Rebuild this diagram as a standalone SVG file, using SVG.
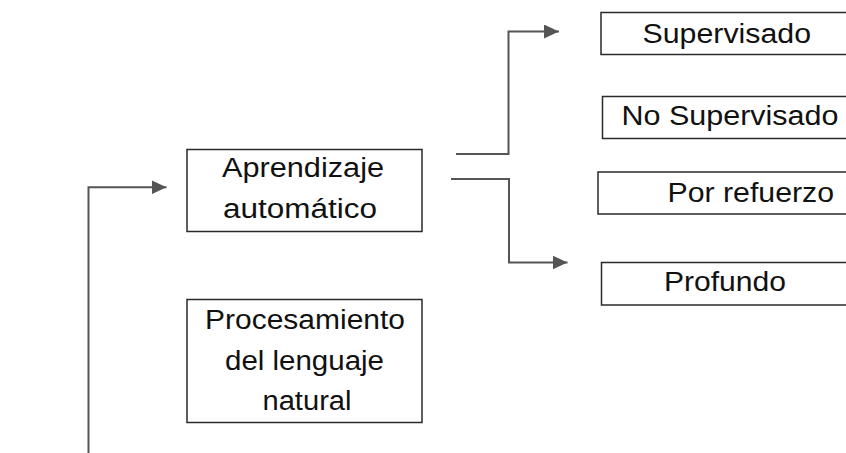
<svg xmlns="http://www.w3.org/2000/svg" width="846" height="453" viewBox="0 0 846 453">
<style>
.box{fill:#fff;stroke:#2a2a2a;stroke-width:1.5}
.lbl{font-family:"Liberation Sans",Arial,sans-serif;font-size:27px;fill:#111}
.conn{fill:none;stroke:#555;stroke-width:2}
</style>
<defs>
<marker id="arr" viewBox="0 0 15 14" refX="15" refY="7" markerWidth="15" markerHeight="14" markerUnits="userSpaceOnUse" orient="auto">
<path d="M0,0 L15,7 L0,14 Z" fill="#555"/>
</marker>
</defs>
<rect width="846" height="453" fill="#fff"/>
<g id="connectors">
<path class="conn" d="M88.5,453 V187.3 H166.5" marker-end="url(#arr)"/>
<path class="conn" d="M456,154 H508.5 V31.5 H559" marker-end="url(#arr)"/>
<path class="conn" d="M451,179 H509 V262.5 H567.5" marker-end="url(#arr)"/>
</g>
<g id="aprendizaje">
<rect class="box" x="187" y="149.5" width="235" height="82"/>
<text class="lbl" x="222" y="177" textLength="162" lengthAdjust="spacingAndGlyphs">Aprendizaje</text>
<text class="lbl" x="223" y="217.5" textLength="154" lengthAdjust="spacingAndGlyphs">automático</text>
</g>
<g id="procesamiento">
<rect class="box" x="187" y="299.5" width="235" height="123"/>
<text class="lbl" x="205" y="328.5" textLength="200" lengthAdjust="spacingAndGlyphs">Procesamiento</text>
<text class="lbl" x="225" y="370" textLength="159" lengthAdjust="spacingAndGlyphs">del lenguaje</text>
<text class="lbl" x="262.5" y="409.5" textLength="89" lengthAdjust="spacingAndGlyphs">natural</text>
</g>
<g id="supervisado">
<rect class="box" x="601" y="12.5" width="250" height="42"/>
<text class="lbl" x="642.5" y="43" textLength="168.5" lengthAdjust="spacingAndGlyphs">Supervisado</text>
</g>
<g id="no-supervisado">
<rect class="box" x="602.5" y="96.5" width="250" height="42"/>
<text class="lbl" x="621.5" y="125" textLength="217" lengthAdjust="spacingAndGlyphs">No Supervisado</text>
</g>
<g id="por-refuerzo">
<rect class="box" x="598" y="172" width="255" height="42"/>
<text class="lbl" x="667.5" y="202" textLength="166.5" lengthAdjust="spacingAndGlyphs">Por refuerzo</text>
</g>
<g id="profundo">
<rect class="box" x="601.5" y="262.5" width="250" height="42.5"/>
<text class="lbl" x="664" y="291" textLength="122" lengthAdjust="spacingAndGlyphs">Profundo</text>
</g>
</svg>
